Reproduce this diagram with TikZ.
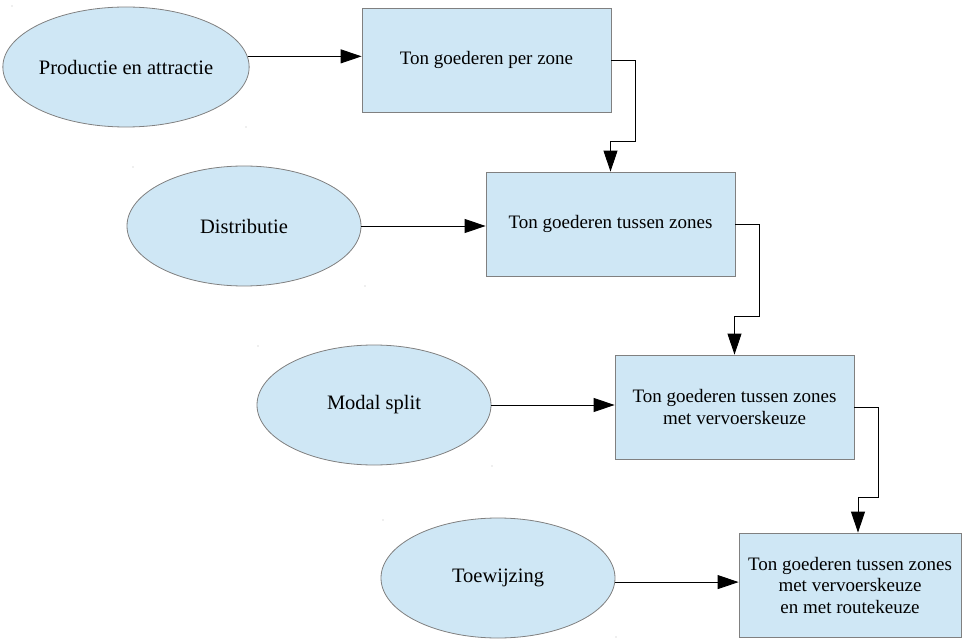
\documentclass[tikz,border=0pt]{standalone}
\usepackage{fontspec}
\setmainfont{Liberation Serif}
\usetikzlibrary{arrows.meta,shapes.geometric}
\definecolor{boxfill}{RGB}{207,231,245}
\definecolor{boxline}{RGB}{128,128,128}
\tikzset{
  stage/.style={ellipse, draw=boxline, fill=boxfill, line width=0.8pt,
    minimum width=234pt, minimum height=120pt, inner sep=0pt,
    font=\fontsize{20.5}{24}\selectfont},
  result/.style={rectangle, draw=boxline, fill=boxfill, line width=0.8pt,
    minimum height=104pt, inner sep=0pt, align=center,
    font=\fontsize{19}{21.5}\selectfont},
  flow/.style={line width=0.9pt, -{Triangle[length=21pt,width=14pt]}},
  speck/.style={fill=gray!55, draw=none}
}
\begin{document}
\begin{tikzpicture}[x=1pt,y=-1pt]
\useasboundingbox (0,0) rectangle (967,639);

% model stages
\node[stage] (e1) at (126,67)  {Productie en attractie};
\node[stage] (e2) at (244,226) {Distributie};
\node[stage] (e3) at (374,405) {Modal split};
\node[stage] (e4) at (498,578) {Toewijzing};

% intermediate results
\node[result, minimum width=249pt] (r1) at (486.5,60)  {Ton goederen per zone};
\node[result, minimum width=249pt] (r2) at (610.5,224) {Ton goederen tussen zones};
\node[result, minimum width=239pt] (r3) at (734.5,407) {Ton goederen tussen zones\\met vervoerskeuze};
\node[result, minimum width=222pt] (r4) at (850,585)   {Ton goederen tussen zones\\met vervoerskeuze\\en met routekeuze};

% stage -> result
\draw[flow] (e1.5.5) -- (e1.5.5 -| r1.west);
\draw[flow] (e2.east) -- (e2.east -| r2.west);
\draw[flow] (e3.east) -- (e3.east -| r3.west);
\draw[flow] (e4.-2.5) -- (e4.-2.5 -| r4.west);

% result -> next result
\draw[flow] (r1.east) -- ++(24,0) -- ++(0,81) -| (r2.north);
\draw[flow] (r2.east) -- ++(24,0) -- ++(0,92) -| (r3.north);
\draw[flow] (r3.east) -- ++(24,0) -- ++(0,90) -| ([xshift=8pt]r4.north);

% small frame marks around the stage shapes
\fill[speck] (12,6) circle (0.7pt);
\fill[speck] (246,127) circle (0.7pt);
\fill[speck] (133,167) circle (0.7pt);
\fill[speck] (365,286) circle (0.7pt);
\fill[speck] (258,346) circle (0.7pt);
\fill[speck] (492,466) circle (0.7pt);
\fill[speck] (383,520) circle (0.7pt);
\fill[speck] (616,637) circle (0.7pt);
\end{tikzpicture}
\end{document}
